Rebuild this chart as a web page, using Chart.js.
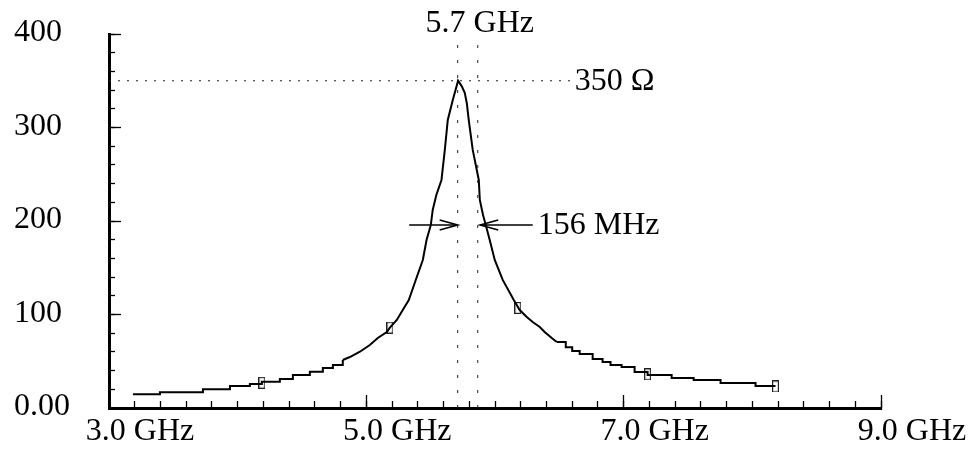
<!DOCTYPE html>
<html>
<head>
<meta charset="utf-8">
<script src="https://cdn.jsdelivr.net/npm/chart.js@4.4.1/dist/chart.umd.min.js"></script>
<style>
  html, body { margin: 0; padding: 0; background: #fff; }
  #wrap { width: 977px; height: 455px; }
</style>
</head>
<body>
<div id="wrap"><canvas id="c" width="977" height="455"></canvas></div>
<script>
// Impedance sweep of the resonator, split into the quantised (stair-step)
// tails and the smooth resonance peak.
const leftTailGHz = [3.186, 3.396, 3.730, 3.940, 4.095, 4.188, 4.328, 4.429, 4.561, 4.662, 4.740, 4.817];
const leftTailOhm = [14.7, 16.8, 20.0, 23.5, 25.7, 28.1, 31.0, 35.3, 38.8, 42.8, 46.0, 51.3];

const peakGHz = [4.817, 4.872, 4.950, 5.027, 5.089, 5.159, 5.183, 5.237, 5.283, 5.330, 5.384, 5.439, 5.468, 5.501,
                 5.516, 5.544, 5.584, 5.610, 5.633, 5.672, 5.697, 5.713, 5.742, 5.765, 5.781, 5.796, 5.827, 5.874,
                 5.882, 5.907, 5.928, 5.959, 5.998, 6.060, 6.146, 6.192, 6.247, 6.293, 6.348, 6.386, 6.441, 6.480];
const peakOhm = [51.3, 54.5, 60.2, 67.4, 74.9, 81.3, 85.9, 94.1, 104.8, 115.5, 136.9, 158.3, 179.7, 195.7,
                 211.8, 227.8, 243.9, 276.0, 308.0, 329.4, 342.0, 350.0, 344.0, 337.0, 326.0, 308.0, 276.0, 243.9,
                 222.5, 206.4, 195.7, 179.7, 158.3, 137.0, 115.5, 104.8, 97.3, 92.0, 86.6, 81.3, 74.9, 70.6];

const rightTailGHz = [6.480, 6.550, 6.600, 6.658, 6.759, 6.836, 6.898, 6.984, 7.085, 7.186, 7.373, 7.544, 7.753, 8.025, 8.180];
const rightTailOhm = [70.6, 65.0, 61.0, 57.8, 52.4, 49.2, 46.0, 43.9, 38.5, 35.3, 32.1, 29.9, 26.7, 23.5, 23.5];

// Sweep markers
const markerGHz = [4.188, 5.183, 6.177, 7.186, 8.180];
const markerOhm = [27.0, 85.9, 107.0, 36.0, 23.0];

// Annotations: resonance frequency, bandwidth edges, peak level
const resonanceGHz = 5.71;
const bandwidthGHz = 0.156;
const peakLevelOhm = 350;
const peakGuideEndGHz = 6.61;
const arrowLevelOhm = 195.7;
const leftArrowGHz = [5.333, 5.71];
const rightArrowGHz = [6.293, 5.885];
const arrowHeadGHz = 0.14;
const arrowHeadOhm = 5.3;

// Axis ticks
const xMajorTicksGHz = [3, 5, 7, 9];
const yMajorTicksOhm = [0, 100, 200, 300, 400];

// Annotation texts [text, GHz, Ohm, align]
const resonanceLabel = ['5.7 GHz', 5.882, 402, 'center'];
const peakLabel = ['350 \u03A9', 6.62, 350, 'left'];
const bandwidthLabel = ['156 MHz', 6.332, 195.7, 'left'];

const pts = (xs, ys) => xs.map((v, i) => ({ x: v, y: ys[i] }));

// Open rectangle used as marker symbol
const markerBox = document.createElement('canvas');
markerBox.width = 7; markerBox.height = 12;
(function () {
  const g = markerBox.getContext('2d');
  g.strokeStyle = '#222';
  g.lineWidth = 1.2;
  g.strokeRect(0.6, 0.6, 5.8, 10.8);
})();

const SERIF = '"Liberation Serif", "Times New Roman", serif';
const guide = { borderColor: '#222', borderWidth: 1, pointRadius: 0, fill: false };
const arrowStyle = { borderColor: '#000', borderWidth: 1.6, pointRadius: 0, fill: false };

const datasets = [
  Object.assign({ data: [{ x: 3.0, y: peakLevelOhm }, { x: peakGuideEndGHz, y: peakLevelOhm }], borderDash: [2, 7] }, guide),
  Object.assign({ data: [{ x: resonanceGHz, y: 0 }, { x: resonanceGHz, y: 400 }], borderDash: [3, 12] }, guide),
  Object.assign({ data: [{ x: resonanceGHz + bandwidthGHz, y: 0 }, { x: resonanceGHz + bandwidthGHz, y: 400 }], borderDash: [3, 12] }, guide),
  { data: pts(leftTailGHz, leftTailOhm), borderColor: '#000', borderWidth: 2, pointRadius: 0, stepped: true },
  { data: pts(peakGHz, peakOhm), borderColor: '#000', borderWidth: 2, pointRadius: 0, tension: 0 },
  { data: pts(rightTailGHz, rightTailOhm), borderColor: '#000', borderWidth: 2, pointRadius: 0, stepped: true },
  { data: pts(markerGHz, markerOhm), showLine: false, pointStyle: markerBox, pointRadius: 6 },
  Object.assign({ data: leftArrowGHz.map(v => ({ x: v, y: arrowLevelOhm })) }, arrowStyle),
  Object.assign({ data: [
    { x: leftArrowGHz[1] - arrowHeadGHz, y: arrowLevelOhm + arrowHeadOhm },
    { x: leftArrowGHz[1], y: arrowLevelOhm },
    { x: leftArrowGHz[1] - arrowHeadGHz, y: arrowLevelOhm - arrowHeadOhm }] }, arrowStyle),
  Object.assign({ data: rightArrowGHz.map(v => ({ x: v, y: arrowLevelOhm })) }, arrowStyle),
  Object.assign({ data: [
    { x: rightArrowGHz[1] + arrowHeadGHz, y: arrowLevelOhm + arrowHeadOhm },
    { x: rightArrowGHz[1], y: arrowLevelOhm },
    { x: rightArrowGHz[1] + arrowHeadGHz, y: arrowLevelOhm - arrowHeadOhm }] }, arrowStyle)
];

const annotationText = {
  id: 'annotationText',
  afterDatasetsDraw(chart) {
    const { ctx, scales } = chart;
    const xs = scales.x, ys = scales.y;
    ctx.save();
    ctx.font = '32px ' + SERIF;
    ctx.fillStyle = '#000';
    ctx.textAlign = resonanceLabel[3];
    ctx.textBaseline = 'alphabetic';
    ctx.fillText(resonanceLabel[0], xs.getPixelForValue(resonanceLabel[1]), ys.getPixelForValue(resonanceLabel[2]));
    ctx.textBaseline = 'middle';
    for (const l of [peakLabel, bandwidthLabel]) {
      ctx.textAlign = l[3];
      ctx.fillText(l[0], xs.getPixelForValue(l[1]), ys.getPixelForValue(l[2]) + 1);
    }
    ctx.restore();
  }
};

const minorGrid = { display: true, drawOnChartArea: false, drawTicks: true, color: '#000', tickColor: '#000', tickWidth: 1.3 };

new Chart(document.getElementById('c'), {
  type: 'line',
  data: { datasets },
  options: {
    responsive: false,
    animation: false,
    events: [],
    layout: { padding: { left: 14, right: 96, top: 34, bottom: 0 } },
    plugins: { legend: { display: false }, tooltip: { enabled: false } },
    scales: {
      x: {
        type: 'linear', position: 'bottom', weight: 1,
        min: 3, max: 9,
        afterBuildTicks: s => { s.ticks = xMajorTicksGHz.map(v => ({ value: v })); },
        afterFit: s => { s.height = 47; },
        border: { display: true, color: '#000', width: 3 },
        grid: Object.assign({}, minorGrid, { tickLength: -13 }),
        ticks: {
          autoSkip: false, maxRotation: 0, minRotation: 0,
          labelOffset: 31, padding: 17,
          color: '#000', font: { family: SERIF, size: 32 },
          callback: v => v.toFixed(1) + ' GHz'
        }
      },
      xMinor: {
        type: 'linear', position: 'bottom', weight: 0,
        min: 3, max: 9,
        afterFit: s => { s.height = 0; },
        border: { display: false },
        grid: Object.assign({}, minorGrid, { tickLength: -7 }),
        ticks: { stepSize: 0.2, autoSkip: false, display: false, maxRotation: 0 }
      },
      y: {
        type: 'linear', position: 'left', weight: 1,
        min: 0, max: 400,
        afterBuildTicks: s => { s.ticks = yMajorTicksOhm.map(v => ({ value: v })); },
        afterFit: s => { s.width = 95; },
        border: { display: true, color: '#000', width: 3 },
        grid: Object.assign({}, minorGrid, { tickLength: -12 }),
        ticks: {
          crossAlign: 'far', labelOffset: -1,
          color: '#000', font: { family: SERIF, size: 32 },
          callback: v => (v === 0 ? '0.00' : String(v))
        }
      },
      yMinor: {
        type: 'linear', position: 'left', weight: 0,
        min: 0, max: 400,
        afterFit: s => { s.width = 0; },
        border: { display: false },
        grid: Object.assign({}, minorGrid, { tickLength: -6 }),
        ticks: { stepSize: 20, display: false }
      }
    }
  },
  plugins: [annotationText]
});
</script>
</body>
</html>
